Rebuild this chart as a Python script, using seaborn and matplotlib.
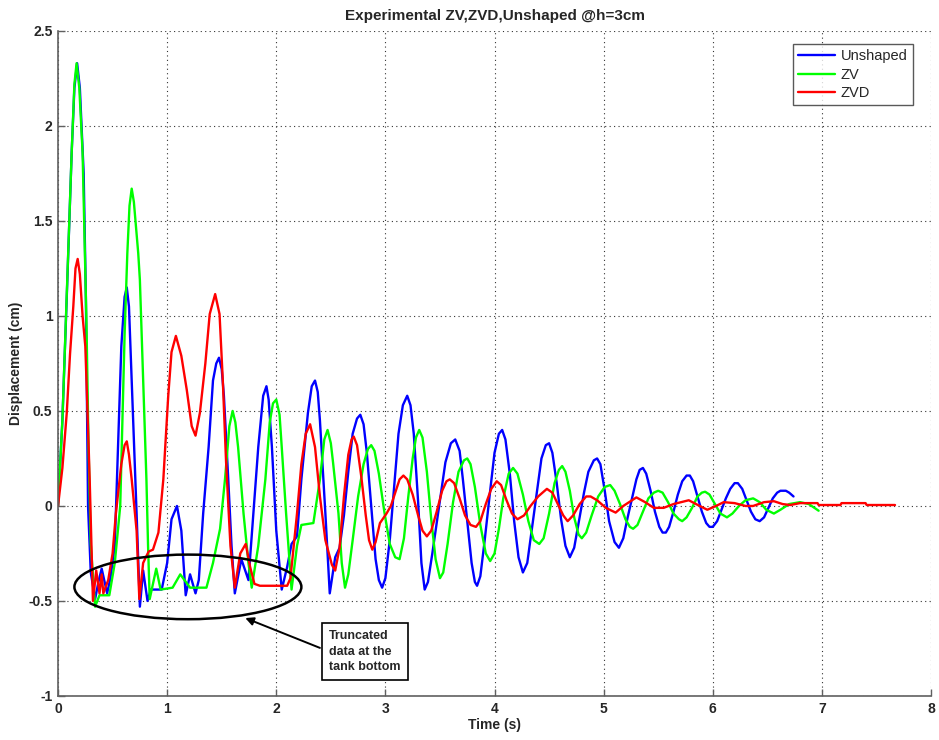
import numpy as np
import pandas as pd
import matplotlib
matplotlib.use("Agg")
import matplotlib.pyplot as plt
from matplotlib.patches import Ellipse
import seaborn as sns

# ---- measured tank-surface displacement: (time s, displacement cm) ----
unshaped = [
    (0.00, 0.00), (0.04, 0.45), (0.08, 1.10), (0.125, 1.86), (0.15, 2.20), (0.175, 2.33), (0.20, 2.20),
    (0.235, 1.75), (0.255, 1.10), (0.275, 0.00), (0.30, -0.35), (0.34, -0.49), (0.37, -0.40), (0.40, -0.33),
    (0.45, -0.46), (0.48, -0.38), (0.52, -0.21), (0.55, 0.31), (0.58, 0.84), (0.61, 1.10), (0.63, 1.15),
    (0.65, 1.05), (0.675, 0.66), (0.72, -0.04), (0.75, -0.53), (0.78, -0.34), (0.82, -0.50), (0.85, -0.44),
    (0.95, -0.44), (1.00, -0.30), (1.04, -0.07), (1.09, 0.00), (1.13, -0.13), (1.16, -0.39), (1.17, -0.47),
    (1.21, -0.36), (1.26, -0.46), (1.29, -0.39), (1.33, -0.04), (1.38, 0.31), (1.42, 0.66), (1.45, 0.75),
    (1.475, 0.78), (1.50, 0.72), (1.52, 0.58), (1.56, 0.14), (1.59, -0.21), (1.62, -0.46), (1.68, -0.28),
    (1.745, -0.39), (1.79, -0.04), (1.835, 0.31), (1.88, 0.58), (1.91, 0.63), (1.93, 0.56), (1.96, 0.31),
    (2.00, -0.13), (2.05, -0.44), (2.10, -0.32), (2.14, -0.20), (2.19, -0.16), (2.23, 0.14), (2.29, 0.49),
    (2.325, 0.63), (2.355, 0.66), (2.38, 0.60), (2.40, 0.45), (2.45, -0.04), (2.49, -0.46), (2.54, -0.27),
    (2.58, -0.22), (2.62, -0.05), (2.66, 0.18), (2.70, 0.38), (2.74, 0.46), (2.77, 0.48), (2.80, 0.43),
    (2.83, 0.28), (2.87, 0.00), (2.91, -0.28), (2.94, -0.39), (2.97, -0.43), (3.00, -0.38), (3.04, -0.18),
    (3.08, 0.10), (3.12, 0.38), (3.16, 0.53), (3.20, 0.58), (3.23, 0.53), (3.26, 0.38), (3.30, 0.02),
    (3.33, -0.30), (3.36, -0.44), (3.39, -0.40), (3.43, -0.25), (3.50, 0.03), (3.55, 0.23), (3.60, 0.33),
    (3.64, 0.35), (3.68, 0.29), (3.71, 0.14), (3.75, -0.08), (3.79, -0.30), (3.82, -0.40), (3.84, -0.42),
    (3.87, -0.37), (3.91, -0.18), (3.96, 0.08), (4.00, 0.28), (4.04, 0.38), (4.07, 0.40), (4.10, 0.35),
    (4.14, 0.17), (4.18, -0.08), (4.22, -0.27), (4.26, -0.35), (4.30, -0.30), (4.34, -0.13), (4.39, 0.08),
    (4.43, 0.25), (4.47, 0.32), (4.50, 0.33), (4.53, 0.28), (4.57, 0.12), (4.61, -0.07), (4.65, -0.21),
    (4.69, -0.27), (4.73, -0.22), (4.77, -0.09), (4.82, 0.07), (4.86, 0.18), (4.91, 0.24), (4.94, 0.25),
    (4.97, 0.22), (5.01, 0.08), (5.05, -0.08), (5.10, -0.19), (5.14, -0.22), (5.18, -0.17), (5.22, -0.06),
    (5.26, 0.04), (5.30, 0.14), (5.33, 0.19), (5.36, 0.20), (5.39, 0.17), (5.43, 0.08), (5.47, -0.03),
    (5.51, -0.11), (5.54, -0.14), (5.57, -0.14), (5.60, -0.11), (5.64, -0.03), (5.68, 0.06), (5.72, 0.13),
    (5.76, 0.16), (5.79, 0.16), (5.82, 0.13), (5.86, 0.05), (5.90, -0.03), (5.94, -0.09), (5.97, -0.11),
    (6.00, -0.11), (6.04, -0.08), (6.08, -0.02), (6.12, 0.04), (6.16, 0.09), (6.20, 0.12), (6.23, 0.12),
    (6.27, 0.09), (6.31, 0.03), (6.35, -0.03), (6.39, -0.07), (6.43, -0.08), (6.47, -0.06), (6.51, -0.01),
    (6.55, 0.04), (6.59, 0.07), (6.62, 0.08), (6.67, 0.08), (6.70, 0.07), (6.74, 0.05),
]

zv = [
    (0.00, 0.00), (0.04, 0.45), (0.08, 1.12), (0.125, 1.86), (0.15, 2.22), (0.17, 2.33), (0.195, 2.20),
    (0.225, 1.86), (0.26, 0.98), (0.28, 0.30), (0.30, -0.20), (0.34, -0.53), (0.38, -0.47), (0.47, -0.47),
    (0.52, -0.30), (0.57, 0.00), (0.61, 0.90), (0.635, 1.33), (0.655, 1.58), (0.675, 1.67), (0.695, 1.60),
    (0.735, 1.33), (0.75, 1.19), (0.78, 0.66), (0.81, 0.14), (0.825, -0.21), (0.84, -0.49), (0.90, -0.33),
    (0.94, -0.44), (1.05, -0.43), (1.12, -0.36), (1.21, -0.43), (1.36, -0.43), (1.42, -0.30), (1.485, -0.12),
    (1.53, 0.14), (1.57, 0.42), (1.60, 0.50), (1.625, 0.44), (1.65, 0.31), (1.70, -0.04), (1.745, -0.30),
    (1.775, -0.43), (1.835, -0.21), (1.90, 0.14), (1.94, 0.44), (1.97, 0.54), (2.00, 0.56), (2.03, 0.48),
    (2.05, 0.31), (2.09, -0.04), (2.14, -0.44), (2.19, -0.21), (2.23, -0.10), (2.34, -0.09), (2.40, 0.14),
    (2.44, 0.35), (2.47, 0.40), (2.50, 0.33), (2.52, 0.23), (2.57, -0.04), (2.60, -0.30), (2.63, -0.43),
    (2.66, -0.36), (2.70, -0.18), (2.75, 0.05), (2.80, 0.22), (2.84, 0.30), (2.87, 0.32), (2.90, 0.29),
    (2.94, 0.17), (2.99, -0.03), (3.04, -0.20), (3.09, -0.27), (3.13, -0.28), (3.17, -0.17), (3.21, 0.05),
    (3.25, 0.25), (3.28, 0.36), (3.31, 0.40), (3.34, 0.36), (3.38, 0.18), (3.42, -0.07), (3.46, -0.28),
    (3.50, -0.38), (3.53, -0.35), (3.57, -0.20), (3.62, 0.02), (3.67, 0.18), (3.72, 0.24), (3.75, 0.25),
    (3.78, 0.22), (3.82, 0.10), (3.87, -0.10), (3.92, -0.25), (3.96, -0.29), (4.00, -0.25), (4.04, -0.12),
    (4.08, 0.04), (4.13, 0.17), (4.17, 0.20), (4.21, 0.17), (4.26, 0.06), (4.31, -0.08), (4.36, -0.18),
    (4.41, -0.20), (4.45, -0.17), (4.50, -0.04), (4.55, 0.12), (4.59, 0.19), (4.62, 0.21), (4.65, 0.18),
    (4.69, 0.08), (4.73, -0.06), (4.77, -0.15), (4.80, -0.17), (4.84, -0.14), (4.89, -0.05), (4.95, 0.05),
    (5.01, 0.10), (5.06, 0.11), (5.10, 0.08), (5.15, 0.01), (5.20, -0.07), (5.24, -0.11), (5.27, -0.12),
    (5.31, -0.10), (5.36, -0.03), (5.41, 0.04), (5.46, 0.07), (5.50, 0.08), (5.54, 0.07), (5.59, 0.02),
    (5.64, -0.04), (5.69, -0.07), (5.72, -0.08), (5.76, -0.06), (5.81, -0.01), (5.86, 0.05), (5.90, 0.07),
    (5.93, 0.075), (5.97, 0.06), (6.02, 0.01), (6.07, -0.04), (6.13, -0.06), (6.18, -0.04), (6.24, 0.00),
    (6.30, 0.03), (6.37, 0.04), (6.43, 0.02), (6.49, -0.02), (6.56, -0.04), (6.62, -0.02), (6.70, 0.01),
    (6.80, 0.02), (6.88, 0.01), (6.97, -0.025),
]

zvd = [
    (0.00, 0.00), (0.04, 0.20), (0.08, 0.49), (0.11, 0.80), (0.14, 1.05), (0.16, 1.25), (0.18, 1.30),
    (0.20, 1.22), (0.225, 1.00), (0.25, 0.84), (0.27, 0.50), (0.29, 0.14), (0.32, -0.50), (0.35, -0.34),
    (0.38, -0.46), (0.40, -0.36), (0.415, -0.46), (0.46, -0.39), (0.50, -0.25), (0.53, -0.04), (0.58, 0.22),
    (0.61, 0.32), (0.63, 0.34), (0.65, 0.27), (0.675, 0.14), (0.72, -0.13), (0.745, -0.49), (0.78, -0.30),
    (0.83, -0.24), (0.87, -0.23), (0.92, -0.14), (0.965, 0.14), (1.01, 0.58), (1.04, 0.81), (1.08, 0.895),
    (1.13, 0.79), (1.18, 0.61), (1.225, 0.42), (1.26, 0.37), (1.30, 0.49), (1.35, 0.75), (1.39, 1.01),
    (1.44, 1.115), (1.48, 1.01), (1.51, 0.66), (1.54, 0.23), (1.58, -0.21), (1.62, -0.43), (1.67, -0.25),
    (1.72, -0.20), (1.76, -0.32), (1.80, -0.41), (1.85, -0.42), (2.10, -0.42), (2.13, -0.38), (2.16, -0.21),
    (2.19, -0.04), (2.23, 0.22), (2.27, 0.38), (2.31, 0.43), (2.355, 0.31), (2.40, 0.05), (2.45, -0.18),
    (2.51, -0.31), (2.54, -0.34), (2.58, -0.22), (2.62, 0.05), (2.66, 0.27), (2.69, 0.35), (2.71, 0.365),
    (2.74, 0.32), (2.78, 0.15), (2.82, -0.05), (2.85, -0.18), (2.88, -0.23), (2.91, -0.19), (2.95, -0.09),
    (3.01, -0.04), (3.05, 0.00), (3.09, 0.07), (3.13, 0.14), (3.165, 0.16), (3.20, 0.14), (3.25, 0.06),
    (3.30, -0.05), (3.34, -0.13), (3.38, -0.16), (3.42, -0.13), (3.47, -0.03), (3.52, 0.08), (3.56, 0.13),
    (3.59, 0.14), (3.63, 0.12), (3.68, 0.04), (3.73, -0.05), (3.78, -0.10), (3.83, -0.11), (3.87, -0.08),
    (3.92, 0.01), (3.97, 0.09), (4.02, 0.13), (4.06, 0.11), (4.11, 0.03), (4.16, -0.04), (4.21, -0.07),
    (4.27, -0.05), (4.33, 0.00), (4.40, 0.05), (4.48, 0.09), (4.53, 0.07), (4.58, 0.01), (4.63, -0.05),
    (4.67, -0.08), (4.72, -0.05), (4.78, 0.01), (4.84, 0.05), (4.88, 0.05), (4.94, 0.03), (5.02, -0.01),
    (5.11, -0.035), (5.18, 0.00), (5.30, 0.045), (5.38, 0.02), (5.46, -0.01), (5.55, -0.01), (5.64, 0.01),
    (5.78, 0.03), (5.88, 0.00), (5.95, -0.02), (6.03, 0.00), (6.10, 0.02), (6.20, 0.015), (6.30, 0.00),
    (6.37, 0.00), (6.47, 0.02), (6.56, 0.025), (6.64, 0.01), (6.71, 0.005), (6.80, 0.015), (6.96, 0.015),
    (6.97, 0.005), (7.17, 0.005), (7.18, 0.015), (7.40, 0.015), (7.41, 0.005), (7.67, 0.005),
]

series_names = ["Unshaped", "ZV", "ZVD"]
series_colors = {"Unshaped": "#0000ff", "ZV": "#00ff00", "ZVD": "#ff0000"}

x_ticks = [0, 1, 2, 3, 4, 5, 6, 7, 8]
y_ticks = [-1, -0.5, 0, 0.5, 1, 1.5, 2, 2.5]
y_tick_labels = ["-1", "-0.5", "0", "0.5", "1", "1.5", "2", "2.5"]

frames = []
for name, pts in zip(series_names, [unshaped, zv, zvd]):
    t, v = zip(*pts)
    frames.append(pd.DataFrame({"Time": t, "Displacement": v, "Input": name}))
data = pd.concat(frames, ignore_index=True)

sns.set_theme(style="white")
plt.rcParams["font.family"] = ["Liberation Sans", "DejaVu Sans"]

fig = plt.figure(figsize=(9.39, 7.40), dpi=100)
ax = fig.add_axes([0.0618, 0.0595, 0.9297, 0.8987])

sns.lineplot(data=data, x="Time", y="Displacement", hue="Input", hue_order=series_names,
             palette=series_colors, sort=False, estimator=None, units="Input",
             linewidth=1.7, ax=ax)
for line in ax.lines:
    line.set_solid_joinstyle("round")

ax.set_xlim(0, 8)
ax.set_ylim(-1, 2.5)
ax.set_xticks(x_ticks)
ax.set_xticklabels([str(x) for x in x_ticks])
ax.set_yticks(y_ticks)
ax.set_yticklabels(y_tick_labels)

ax.grid(True, color="#333333", linestyle=(0, (1, 3)), linewidth=0.8)
for side in ["top", "right"]:
    ax.spines[side].set_visible(False)
for side in ["left", "bottom"]:
    ax.spines[side].set_color("#606060")
    ax.spines[side].set_linewidth(1.2)
ax.tick_params(axis="both", direction="in", length=5, width=1, color="#606060",
               labelsize=10, pad=4, left=True, bottom=True)
for lbl in ax.get_xticklabels() + ax.get_yticklabels():
    lbl.set_fontweight("bold")

ax.set_title("Experimental ZV,ZVD,Unshaped @h=3cm", fontsize=11, fontweight="bold", pad=8)
ax.set_xlabel("Time (s)", fontsize=10, fontweight="bold", labelpad=2)
ax.set_ylabel("Displacement (cm)", fontsize=10, fontweight="bold", labelpad=4)

handles, labels = ax.get_legend_handles_labels()
leg = ax.legend(handles, labels, loc="upper right", bbox_to_anchor=(0.979, 0.980),
                borderaxespad=0, fontsize=10.5, frameon=True, fancybox=False,
                handlelength=2.5, handletextpad=0.4, labelspacing=0.3, borderpad=0.35)
leg.get_frame().set_edgecolor("#303030")
leg.get_frame().set_linewidth(1.0)
for line in leg.get_lines():
    line.set_linewidth(1.7)

# outline around the clipped samples at the tank bottom
ax.add_patch(Ellipse((1.19, -0.426), width=2.08, height=0.34, fill=False,
                     edgecolor="black", linewidth=1.8, zorder=5))
ax.annotate("", xy=(1.716, -0.59), xytext=(2.40, -0.747),
            arrowprops=dict(arrowstyle="-|>", color="black", lw=1.4, mutation_scale=12,
                            shrinkA=0, shrinkB=0), zorder=6)
ax.text(2.484, -0.766, "Truncated\ndata at the\ntank bottom", fontsize=9, fontweight="bold",
        ha="left", va="center", linespacing=1.35, zorder=7,
        bbox=dict(boxstyle="square,pad=0.6", facecolor="white", edgecolor="black", linewidth=1.2))

fig.savefig("out.png", dpi=100)
